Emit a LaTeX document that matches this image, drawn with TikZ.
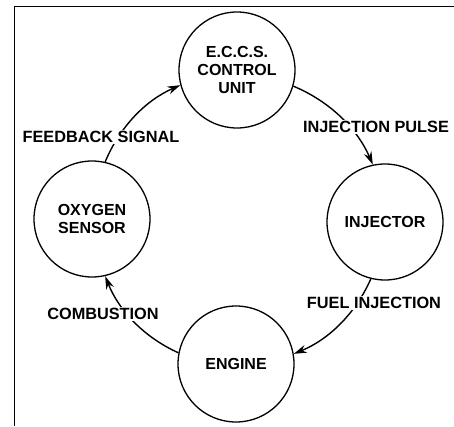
\documentclass[tikz,border=0pt]{standalone}
\usepackage{fontspec}
\setmainfont{Liberation Sans}
\usetikzlibrary{arrows.meta}
\tikzset{
  unit/.style={draw, circle, line width=1.3pt, minimum size=116pt, inner sep=0pt,
    align=center, font=\fontsize{16}{18}\selectfont\bfseries},
  flow/.style={line width=1.4pt, -{Stealth[length=13pt,width=8pt]}, bend left=22, looseness=0.9},
  lbl/.style={fill=white, inner sep=1.5pt, font=\fontsize{16.3}{18}\selectfont\bfseries}
}
\begin{document}
\begin{tikzpicture}[x=1pt,y=1pt]
\useasboundingbox (0,0) rectangle (454,426);
\draw[line width=1.6pt] (14.5,0) -- (14.5,419.5) -- (454,419.5);
\node[unit] (eccs) at (237,356) {E.C.C.S.\\CONTROL\\UNIT};
\node[unit] (oxy) at (92,207) {OXYGEN\\SENSOR};
\node[unit] (inj) at (385,204) {INJECTOR};
\node[unit] (eng) at (236,62) {ENGINE};
\draw[flow] (oxy.77) to (eccs.195);
\draw[flow] (eccs.344) to (inj.102);
\draw[flow] (inj.256) to (eng.10);
\draw[flow] (eng.169) to (oxy.283);
\node[lbl] (fb) at (101,289) {FEEDBACK SIGNAL};
\node[lbl] (ip) at (376,299) {INJECTION PULSE};
\node[lbl] (fi) at (374,123) {FUEL INJECTION};
\node[lbl] (co) at (103,112) {COMBUSTION};
\end{tikzpicture}
\end{document}
